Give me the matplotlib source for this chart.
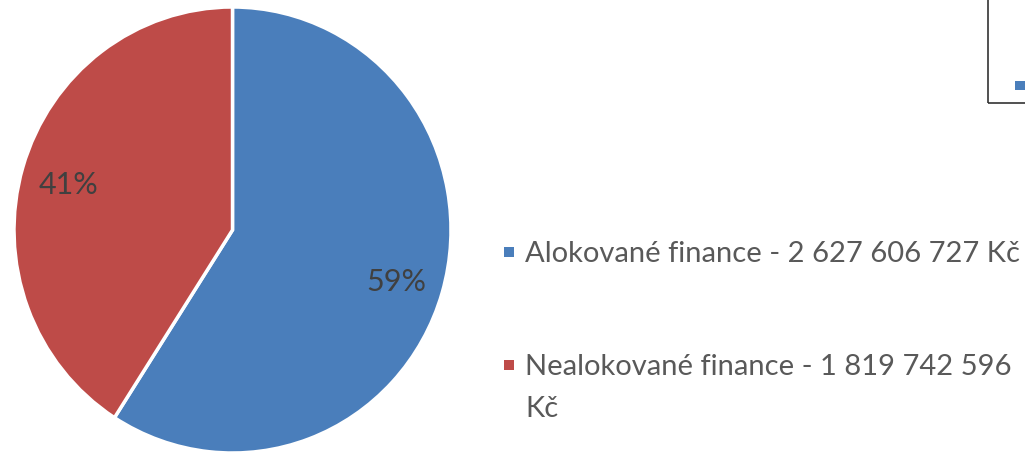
import matplotlib.pyplot as plt
from matplotlib.patches import Rectangle

labels = ["Alokované finance - 2 627 606 727 Kč",
          "Nealokované finance - 1 819 742 596\nKč"]
values = [2627606727, 1819742596]
colors = ["#4a7ebb", "#be4b48"]

W, H = 1025, 456
fig = plt.figure(figsize=(W / 100, H / 100), dpi=100)
plt.rcParams['font.family'] = ['Lato', 'DejaVu Sans']

# pie box in px: left 14, right 451, top 8, bottom 454 (slightly stretched)
left, right, top, bottom = 14, 451, 8, 454
ax = fig.add_axes([left / W, (H - bottom) / H, (right - left) / W, (bottom - top) / H])
wedges, texts, autotexts = ax.pie(
    values, colors=colors, startangle=90, counterclock=False,
    autopct='%1.0f%%', pctdistance=0.78, radius=1,
    wedgeprops=dict(edgecolor='white', linewidth=2.5),
    textprops=dict(color='#404040', fontsize=22))
for t in autotexts:
    t.set_va('center_baseline')
ax.set_xlim(-1, 1)
ax.set_ylim(-1, 1)
ax.set_aspect('auto')
ax.axis('off')

# legend drawn by hand (baselines in px from top)
leg_base = [262, 375]
line_step = 42
for lab, col, y in zip(labels, colors, leg_base):
    fig.patches.append(Rectangle((504 / W, (H - y + 4) / H), 10 / W, 10 / H,
                                 transform=fig.transFigure, facecolor=col,
                                 edgecolor='none'))
    for k, line in enumerate(lab.split('\n')):
        fig.text(525 / W, (H - y - k * line_step) / H, line, color='#595959',
                 fontsize=21, va='baseline', ha='left')

# cropped box of a neighbouring chart in the corner
fig.patches.append(Rectangle((988 / W, (H - 104) / H), 60 / W, 120 / H,
                             transform=fig.transFigure, facecolor='none',
                             edgecolor='#333333', linewidth=1.2))
fig.patches.append(Rectangle((1015 / W, (H - 91) / H), 10 / W, 9 / H,
                             transform=fig.transFigure, facecolor=colors[0],
                             edgecolor='none'))

fig.savefig('out.png', dpi=100)
